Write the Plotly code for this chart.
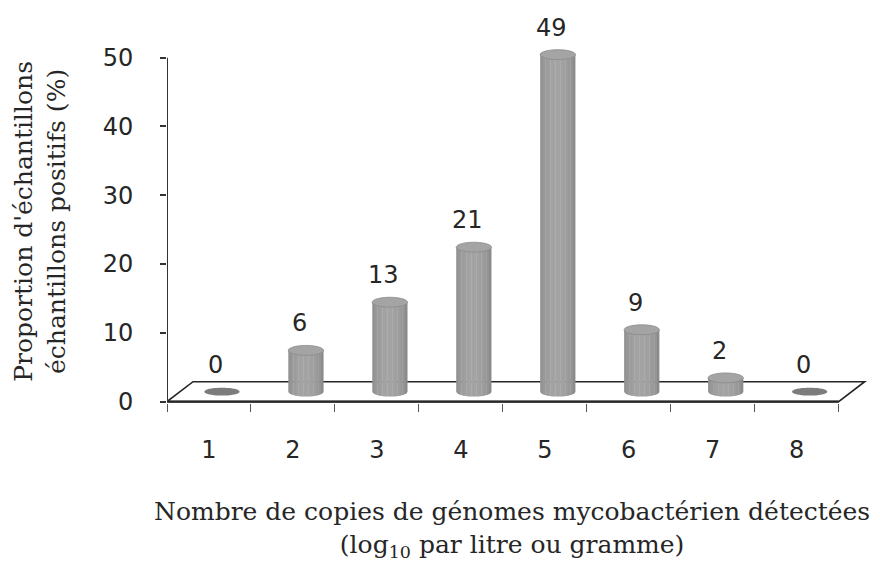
import math
import plotly.graph_objects as go

# ---- data ----
categories = [1, 2, 3, 4, 5, 6, 7, 8]
values = [0, 6, 13, 21, 49, 9, 2, 0]
tick_labels = ["1", "2", "3", "4", "5", "6", "7", "8"]
y_ticks = [0, 10, 20, 30, 40, 50]
x_title = "Nombre de copies de génomes mycobactérien détectées<br>(log<sub>10</sub> par litre ou gramme)"
y_title = "Proportion d'échantillons<br>échantillons positifs (%)"

# ---- geometry (in data units) ----
X0, X1 = 0.5, 8.85
Y0, Y1 = -0.2, 56.5
DEPTH_X = 0.31     # 3D depth offset
DEPTH_Y = 2.9
HALF_W = 0.21      # cylinder radius (x units)
RY = 0.72          # ellipse vertical radius (y units)
NSTRIP = 14

shapes = []

fl = [(X0, 0), (8.5, 0), (8.5 + DEPTH_X, DEPTH_Y), (X0 + DEPTH_X, DEPTH_Y)]
shapes.append(dict(type="path", xref="x", yref="y", layer="above",
                   path="M " + " L ".join(f"{a},{b}" for a, b in fl) + " Z",
                   fillcolor="white", line=dict(color="#262626", width=1.6)))
shapes.append(dict(type="line", xref="x", yref="y", layer="above",
                   x0=X0, y0=0, x1=8.5, y1=0, line=dict(color="#262626", width=2.4)))
shapes.append(dict(type="line", xref="x", yref="y", layer="above",
                   x0=X0, y0=0, x1=X0, y1=y_ticks[-1], line=dict(color="#333333", width=2)))


def ellipse_pts(cx, cy, rx, ry, a0, a1, n=40):
    return [(cx + rx * math.cos(a0 + (a1 - a0) * k / n),
             cy + ry * math.sin(a0 + (a1 - a0) * k / n)) for k in range(n + 1)]


def shade(t):
    s = math.sin(math.pi * min(max(t * 0.95 + 0.05, 0), 1)) ** 0.5
    v = int(128 + 36 * s)
    return f"rgb({v},{v},{v})"


def path_of(pts):
    return "M " + " L ".join(f"{a:.4f},{b:.4f}" for a, b in pts) + " Z"


base_y = DEPTH_Y / 2
for cat, v in zip(categories, values):
    cx = cat + DEPTH_X / 2
    if v <= 0:
        shapes.append(dict(type="path", xref="x", yref="y", layer="above",
                           path=path_of(ellipse_pts(cx, base_y, HALF_W, RY * 0.8, 0, 2 * math.pi)),
                           fillcolor="#7c7c7c", line=dict(width=0)))
        continue
    top = base_y + v
    for j in range(NSTRIP):
        xa = cx - HALF_W + 2 * HALF_W * j / NSTRIP
        xb = min(cx - HALF_W + 2 * HALF_W * (j + 1) / NSTRIP + 0.004, cx + HALF_W)
        seg = []
        for k in range(5):
            x = xa + (xb - xa) * k / 4
            u = (x - cx) / HALF_W
            seg.append((x, base_y - RY * math.sqrt(max(0, 1 - u * u))))
        shapes.append(dict(type="path", xref="x", yref="y", layer="above",
                           path=path_of(seg + [(xb, top), (xa, top)]),
                           fillcolor=shade((j + 0.5) / NSTRIP), line=dict(width=0)))
    shapes.append(dict(type="path", xref="x", yref="y", layer="above",
                       path=path_of(ellipse_pts(cx, top, HALF_W, RY, 0, 2 * math.pi)),
                       fillcolor="#a4a4a4", line=dict(color="#8c8c8c", width=0.8)))

# page body adds an 8px offset; compensate so the screenshot lines up
OFF = 8
W, H = 880, 568
L, R, T, B = 167 - OFF, 20, 13 - OFF, 568 - (403.4 - OFF)
PW, PH = W - L - R, H - T - B


def px(x):
    return (x - OFF - L) / PW


def py(y):
    return (H - (y - OFF) - B) / PH


num_font = dict(family="DejaVu Sans", size=24, color="#262626")
serif = dict(family="DejaVu Serif", size=25, color="#262626")
annotations = []
for cat, v in zip(categories, values):
    annotations.append(dict(x=cat, y=base_y + v, xref="x", yref="y", text=str(v),
                            showarrow=False, xshift=7, yshift=27, font=num_font))
annotations += [
    dict(x=px(512), y=py(530), xref="paper", yref="paper", text=x_title, showarrow=False,
         font=serif, align="center", xanchor="center", yanchor="middle"),
    dict(x=px(40), y=py(222), xref="paper", yref="paper", text=y_title, showarrow=False,
         textangle=-90, font=serif, align="center", xanchor="center", yanchor="middle"),
]

fig = go.Figure()
fig.add_trace(go.Scatter(x=categories, y=values, mode="markers",
                         marker=dict(opacity=0), hoverinfo="skip", showlegend=False))
fig.update_layout(
    width=W, height=H,
    margin=dict(l=L, r=R, t=T, b=B, autoexpand=False),
    paper_bgcolor="white", plot_bgcolor="white",
    showlegend=False,
    shapes=shapes, annotations=annotations,
    xaxis=dict(range=[X0, X1], tickvals=categories, ticktext=tick_labels, automargin=False,
               ticks="", showgrid=False, zeroline=False, showline=False,
               tickfont=num_font, ticklabelstandoff=30,
               minor=dict(tickmode="array", tickvals=[c - 0.5 for c in categories] + [categories[-1] + 0.5],
                          ticks="outside", ticklen=8, tickcolor="#555555", tickwidth=1.2, showgrid=False)),
    yaxis=dict(range=[Y0, Y1], tickvals=y_ticks, ticks="outside", ticklen=6, automargin=False,
               tickcolor="#333333", tickwidth=1.5, showgrid=False, zeroline=False,
               showline=False, tickfont=num_font, ticklabelstandoff=22),
)
fig.write_html("out.html")
